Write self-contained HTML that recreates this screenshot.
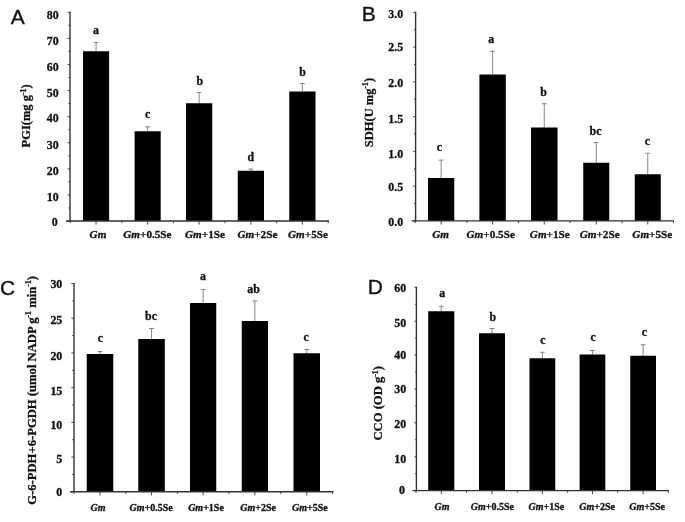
<!DOCTYPE html>
<html lang="en"><head><meta charset="utf-8"><title>Figure</title>
<style>
html,body{margin:0;padding:0;background:#fff;}
body{width:685px;height:522px;overflow:hidden;}
svg{display:block;filter:blur(0.55px);}
svg text{stroke:#111;stroke-width:0.3px;paint-order:stroke;}
svg text.pl{stroke-width:0.35px;}
</style></head><body>
<svg width="685" height="522" viewBox="0 0 685 522">
<rect width="685" height="522" fill="#fff"/>
<g class="panel">
<text x="10.75" y="23.9" font-family='"Liberation Sans", "DejaVu Sans", sans-serif' font-size="21" class="pl" fill="#111">A</text>
<path d="M96.05 51.25V42.50M93.65 42.50H98.45" stroke="#707070" stroke-width="0.85" fill="none"/>
<rect x="83.00" y="51.25" width="26.10" height="169.75" fill="#000"/>
<text x="96.05" y="34.00" text-anchor="middle" font-family='"Liberation Serif", "DejaVu Serif", serif' font-weight="bold" font-size="11.9" fill="#111">a</text>
<path d="M147.65 131.25V126.80M145.25 126.80H150.05" stroke="#707070" stroke-width="0.85" fill="none"/>
<rect x="134.60" y="131.25" width="26.10" height="89.75" fill="#000"/>
<text x="147.65" y="118.30" text-anchor="middle" font-family='"Liberation Serif", "DejaVu Serif", serif' font-weight="bold" font-size="11.9" fill="#111">c</text>
<path d="M199.12 103.25V92.50M196.72 92.50H201.53" stroke="#707070" stroke-width="0.85" fill="none"/>
<rect x="186.00" y="103.25" width="26.25" height="117.75" fill="#000"/>
<text x="199.72" y="84.60" text-anchor="middle" font-family='"Liberation Serif", "DejaVu Serif", serif' font-weight="bold" font-size="11.9" fill="#111">b</text>
<path d="M250.88 170.75V169.00M248.47 169.00H253.28" stroke="#707070" stroke-width="0.85" fill="none"/>
<rect x="237.75" y="170.75" width="26.25" height="50.25" fill="#000"/>
<text x="250.88" y="160.50" text-anchor="middle" font-family='"Liberation Serif", "DejaVu Serif", serif' font-weight="bold" font-size="11.9" fill="#111">d</text>
<path d="M302.38 91.50V83.50M299.98 83.50H304.77" stroke="#707070" stroke-width="0.85" fill="none"/>
<rect x="289.25" y="91.50" width="26.25" height="129.50" fill="#000"/>
<text x="302.68" y="75.90" text-anchor="middle" font-family='"Liberation Serif", "DejaVu Serif", serif' font-weight="bold" font-size="11.9" fill="#111">b</text>
<path d="M70 11.8V221M66 221H329" stroke="#333" stroke-width="1.4" fill="none"/>
<path d="M67.6 221.00H70M67.6 194.91H70M67.6 168.82H70M67.6 142.74H70M67.6 116.65H70M67.6 90.56H70M67.6 64.48H70M67.6 38.39H70M67.6 12.30H70M68.4 207.96H70M68.4 181.87H70M68.4 155.78H70M68.4 129.69H70M68.4 103.61H70M68.4 77.52H70M68.4 51.43H70M68.4 25.34H70M96.05 221V224.6M121.84 221V223.2M147.65 221V224.6M173.44 221V223.2M199.12 221V224.6M224.92 221V223.2M250.88 221V224.6M276.67 221V223.2M302.38 221V224.6M328.17 221V223.2M70.26 221V223.2" stroke="#333" stroke-width="0.9" fill="none"/>
<text x="57.70" y="225.80" text-anchor="end" font-family='"Liberation Serif", "DejaVu Serif", serif' font-weight="bold" font-size="11.9" fill="#111">0</text>
<text x="58.70" y="200.80" text-anchor="end" font-family='"Liberation Serif", "DejaVu Serif", serif' font-weight="bold" font-size="11.9" fill="#111">10</text>
<text x="58.70" y="174.80" text-anchor="end" font-family='"Liberation Serif", "DejaVu Serif", serif' font-weight="bold" font-size="11.9" fill="#111">20</text>
<text x="58.70" y="148.60" text-anchor="end" font-family='"Liberation Serif", "DejaVu Serif", serif' font-weight="bold" font-size="11.9" fill="#111">30</text>
<text x="58.70" y="122.30" text-anchor="end" font-family='"Liberation Serif", "DejaVu Serif", serif' font-weight="bold" font-size="11.9" fill="#111">40</text>
<text x="58.70" y="96.60" text-anchor="end" font-family='"Liberation Serif", "DejaVu Serif", serif' font-weight="bold" font-size="11.9" fill="#111">50</text>
<text x="58.70" y="70.90" text-anchor="end" font-family='"Liberation Serif", "DejaVu Serif", serif' font-weight="bold" font-size="11.9" fill="#111">60</text>
<text x="58.70" y="44.70" text-anchor="end" font-family='"Liberation Serif", "DejaVu Serif", serif' font-weight="bold" font-size="11.9" fill="#111">70</text>
<text x="58.70" y="18.80" text-anchor="end" font-family='"Liberation Serif", "DejaVu Serif", serif' font-weight="bold" font-size="11.9" fill="#111">80</text>
<text x="98.00" y="238.1" text-anchor="middle" font-family='"Liberation Serif", "DejaVu Serif", serif' font-weight="bold" font-size="11.2" fill="#111"><tspan font-style="italic">Gm</tspan></text>
<text x="147.40" y="238.1" text-anchor="middle" font-family='"Liberation Serif", "DejaVu Serif", serif' font-weight="bold" font-size="11.2" fill="#111"><tspan font-style="italic">Gm</tspan>+0.5Se</text>
<text x="205.00" y="238.1" text-anchor="middle" font-family='"Liberation Serif", "DejaVu Serif", serif' font-weight="bold" font-size="11.2" fill="#111"><tspan font-style="italic">Gm</tspan>+1Se</text>
<text x="257.40" y="238.1" text-anchor="middle" font-family='"Liberation Serif", "DejaVu Serif", serif' font-weight="bold" font-size="11.2" fill="#111"><tspan font-style="italic">Gm</tspan>+2Se</text>
<text x="308.00" y="238.1" text-anchor="middle" font-family='"Liberation Serif", "DejaVu Serif", serif' font-weight="bold" font-size="11.2" fill="#111"><tspan font-style="italic">Gm</tspan>+5Se</text>
<text transform="translate(30.2 115.9) rotate(-90)" text-anchor="middle" font-family='"Liberation Serif", "DejaVu Serif", serif' font-weight="bold" font-size="12.5" fill="#111"><tspan>PGI(mg g</tspan><tspan font-size="7.75" dy="-4.5">-1</tspan><tspan dy="4.5">)</tspan></text>
</g>
<g class="panel">
<text x="361.8" y="21.2" font-family='"Liberation Sans", "DejaVu Sans", sans-serif' font-size="21" class="pl" fill="#111">B</text>
<path d="M441.12 178.00V160.10M438.73 160.10H443.52" stroke="#707070" stroke-width="0.85" fill="none"/>
<rect x="428.00" y="178.00" width="26.25" height="42.90" fill="#000"/>
<text x="439.32" y="151.00" text-anchor="middle" font-family='"Liberation Serif", "DejaVu Serif", serif' font-weight="bold" font-size="11.9" fill="#111">c</text>
<path d="M492.60 74.50V51.25M490.20 51.25H495.00" stroke="#707070" stroke-width="0.85" fill="none"/>
<rect x="479.40" y="74.50" width="26.40" height="146.40" fill="#000"/>
<text x="491.30" y="42.75" text-anchor="middle" font-family='"Liberation Serif", "DejaVu Serif", serif' font-weight="bold" font-size="11.9" fill="#111">a</text>
<path d="M544.25 127.50V103.75M541.85 103.75H546.65" stroke="#707070" stroke-width="0.85" fill="none"/>
<rect x="531.00" y="127.50" width="26.50" height="93.40" fill="#000"/>
<text x="543.55" y="95.75" text-anchor="middle" font-family='"Liberation Serif", "DejaVu Serif", serif' font-weight="bold" font-size="11.9" fill="#111">b</text>
<path d="M596.25 162.75V142.50M593.85 142.50H598.65" stroke="#707070" stroke-width="0.85" fill="none"/>
<rect x="583.25" y="162.75" width="26.00" height="58.15" fill="#000"/>
<text x="595.55" y="134.70" text-anchor="middle" font-family='"Liberation Serif", "DejaVu Serif", serif' font-weight="bold" font-size="11.9" fill="#111">bc</text>
<path d="M647.75 174.25V153.25M645.35 153.25H650.15" stroke="#707070" stroke-width="0.85" fill="none"/>
<rect x="634.75" y="174.25" width="26.00" height="46.65" fill="#000"/>
<text x="647.45" y="145.45" text-anchor="middle" font-family='"Liberation Serif", "DejaVu Serif", serif' font-weight="bold" font-size="11.9" fill="#111">c</text>
<path d="M415.6 11.8V220.9M411.6 220.9H674" stroke="#333" stroke-width="1.4" fill="none"/>
<path d="M413.20000000000005 220.90H415.6M413.20000000000005 186.13H415.6M413.20000000000005 151.37H415.6M413.20000000000005 116.60H415.6M413.20000000000005 81.83H415.6M413.20000000000005 47.07H415.6M413.20000000000005 12.30H415.6M414.0 203.52H415.6M414.0 168.75H415.6M414.0 133.98H415.6M414.0 99.22H415.6M414.0 64.45H415.6M414.0 29.68H415.6M441.12 220.9V224.5M466.95 220.9V223.1M492.60 220.9V224.5M518.43 220.9V223.1M544.25 220.9V224.5M570.08 220.9V223.1M596.25 220.9V224.5M622.08 220.9V223.1M647.75 220.9V224.5M673.58 220.9V223.1M415.30 220.9V223.1" stroke="#333" stroke-width="0.9" fill="none"/>
<text x="403.20" y="225.70" text-anchor="end" font-family='"Liberation Serif", "DejaVu Serif", serif' font-weight="bold" font-size="11.9" fill="#111">0.0</text>
<text x="403.20" y="191.40" text-anchor="end" font-family='"Liberation Serif", "DejaVu Serif", serif' font-weight="bold" font-size="11.9" fill="#111">0.5</text>
<text x="403.20" y="158.10" text-anchor="end" font-family='"Liberation Serif", "DejaVu Serif", serif' font-weight="bold" font-size="11.9" fill="#111">1.0</text>
<text x="403.20" y="122.80" text-anchor="end" font-family='"Liberation Serif", "DejaVu Serif", serif' font-weight="bold" font-size="11.9" fill="#111">1.5</text>
<text x="403.20" y="87.10" text-anchor="end" font-family='"Liberation Serif", "DejaVu Serif", serif' font-weight="bold" font-size="11.9" fill="#111">2.0</text>
<text x="403.20" y="51.20" text-anchor="end" font-family='"Liberation Serif", "DejaVu Serif", serif' font-weight="bold" font-size="11.9" fill="#111">2.5</text>
<text x="403.20" y="17.60" text-anchor="end" font-family='"Liberation Serif", "DejaVu Serif", serif' font-weight="bold" font-size="11.9" fill="#111">3.0</text>
<text x="440.60" y="238.2" text-anchor="middle" font-family='"Liberation Serif", "DejaVu Serif", serif' font-weight="bold" font-size="11.2" fill="#111"><tspan font-style="italic">Gm</tspan></text>
<text x="490.70" y="238.2" text-anchor="middle" font-family='"Liberation Serif", "DejaVu Serif", serif' font-weight="bold" font-size="11.2" fill="#111"><tspan font-style="italic">Gm</tspan>+0.5Se</text>
<text x="549.80" y="238.2" text-anchor="middle" font-family='"Liberation Serif", "DejaVu Serif", serif' font-weight="bold" font-size="11.2" fill="#111"><tspan font-style="italic">Gm</tspan>+1Se</text>
<text x="599.70" y="238.2" text-anchor="middle" font-family='"Liberation Serif", "DejaVu Serif", serif' font-weight="bold" font-size="11.2" fill="#111"><tspan font-style="italic">Gm</tspan>+2Se</text>
<text x="652.30" y="238.2" text-anchor="middle" font-family='"Liberation Serif", "DejaVu Serif", serif' font-weight="bold" font-size="11.2" fill="#111"><tspan font-style="italic">Gm</tspan>+5Se</text>
<text transform="translate(372.6 112.5) rotate(-90)" text-anchor="middle" font-family='"Liberation Serif", "DejaVu Serif", serif' font-weight="bold" font-size="12.5" fill="#111"><tspan>SDH(U mg</tspan><tspan font-size="7.75" dy="-4.5">-1</tspan><tspan dy="4.5">)</tspan></text>
</g>
<g class="panel">
<text x="0" y="294.8" font-family='"Liberation Sans", "DejaVu Sans", sans-serif' font-size="21" class="pl" fill="#111">C</text>
<path d="M100.00 354.00V351.50M97.60 351.50H102.40" stroke="#707070" stroke-width="0.85" fill="none"/>
<rect x="86.75" y="354.00" width="26.50" height="137.80" fill="#000"/>
<text x="100.30" y="341.80" text-anchor="middle" font-family='"Liberation Serif", "DejaVu Serif", serif' font-weight="bold" font-size="11.9" fill="#111">c</text>
<path d="M151.55 339.00V328.50M149.15 328.50H153.95" stroke="#707070" stroke-width="0.85" fill="none"/>
<rect x="138.30" y="339.00" width="26.50" height="152.80" fill="#000"/>
<text x="151.05" y="319.50" text-anchor="middle" font-family='"Liberation Serif", "DejaVu Serif", serif' font-weight="bold" font-size="11.9" fill="#111">bc</text>
<path d="M203.12 303.00V289.40M200.72 289.40H205.53" stroke="#707070" stroke-width="0.85" fill="none"/>
<rect x="190.00" y="303.00" width="26.25" height="188.80" fill="#000"/>
<text x="203.03" y="280.00" text-anchor="middle" font-family='"Liberation Serif", "DejaVu Serif", serif' font-weight="bold" font-size="11.9" fill="#111">a</text>
<path d="M254.88 321.00V301.00M252.47 301.00H257.27" stroke="#707070" stroke-width="0.85" fill="none"/>
<rect x="241.75" y="321.00" width="26.25" height="170.80" fill="#000"/>
<text x="253.47" y="292.50" text-anchor="middle" font-family='"Liberation Serif", "DejaVu Serif", serif' font-weight="bold" font-size="11.9" fill="#111">ab</text>
<path d="M306.75 353.25V349.50M304.35 349.50H309.15" stroke="#707070" stroke-width="0.85" fill="none"/>
<rect x="293.50" y="353.25" width="26.50" height="138.55" fill="#000"/>
<text x="306.05" y="340.50" text-anchor="middle" font-family='"Liberation Serif", "DejaVu Serif", serif' font-weight="bold" font-size="11.9" fill="#111">c</text>
<path d="M74 283.0V491.8M70 491.8H333.5" stroke="#333" stroke-width="1.4" fill="none"/>
<path d="M71.4 491.80H74M71.4 457.08H74M71.4 422.37H74M71.4 387.65H74M71.4 352.93H74M71.4 318.22H74M71.4 283.50H74M72.2 474.44H74M72.2 439.73H74M72.2 405.01H74M72.2 370.29H74M72.2 335.58H74M72.2 300.86H74M100.00 491.8V495.40000000000003M125.84 491.8V494.0M151.55 491.8V495.40000000000003M177.39 491.8V494.0M203.12 491.8V495.40000000000003M228.97 491.8V494.0M254.88 491.8V495.40000000000003M280.72 491.8V494.0M306.75 491.8V495.40000000000003M332.59 491.8V494.0M74.16 491.8V494.0" stroke="#333" stroke-width="0.9" fill="none"/>
<text x="62.30" y="496.10" text-anchor="end" font-family='"Liberation Serif", "DejaVu Serif", serif' font-weight="bold" font-size="11.9" fill="#111">0</text>
<text x="62.30" y="462.80" text-anchor="end" font-family='"Liberation Serif", "DejaVu Serif", serif' font-weight="bold" font-size="11.9" fill="#111">5</text>
<text x="62.30" y="428.90" text-anchor="end" font-family='"Liberation Serif", "DejaVu Serif", serif' font-weight="bold" font-size="11.9" fill="#111">10</text>
<text x="62.30" y="394.50" text-anchor="end" font-family='"Liberation Serif", "DejaVu Serif", serif' font-weight="bold" font-size="11.9" fill="#111">15</text>
<text x="62.30" y="360.00" text-anchor="end" font-family='"Liberation Serif", "DejaVu Serif", serif' font-weight="bold" font-size="11.9" fill="#111">20</text>
<text x="62.30" y="323.60" text-anchor="end" font-family='"Liberation Serif", "DejaVu Serif", serif' font-weight="bold" font-size="11.9" fill="#111">25</text>
<text x="62.30" y="287.80" text-anchor="end" font-family='"Liberation Serif", "DejaVu Serif", serif' font-weight="bold" font-size="11.9" fill="#111">30</text>
<text x="98.00" y="511.3" text-anchor="middle" font-family='"Liberation Serif", "DejaVu Serif", serif' font-weight="bold" font-size="10" fill="#111"><tspan font-style="italic">Gm</tspan></text>
<text x="151.20" y="511.3" text-anchor="middle" font-family='"Liberation Serif", "DejaVu Serif", serif' font-weight="bold" font-size="10" fill="#111"><tspan font-style="italic">Gm</tspan>+0.5Se</text>
<text x="206.00" y="511.3" text-anchor="middle" font-family='"Liberation Serif", "DejaVu Serif", serif' font-weight="bold" font-size="10" fill="#111"><tspan font-style="italic">Gm</tspan>+1Se</text>
<text x="258.10" y="511.3" text-anchor="middle" font-family='"Liberation Serif", "DejaVu Serif", serif' font-weight="bold" font-size="10" fill="#111"><tspan font-style="italic">Gm</tspan>+2Se</text>
<text x="309.90" y="511.3" text-anchor="middle" font-family='"Liberation Serif", "DejaVu Serif", serif' font-weight="bold" font-size="10" fill="#111"><tspan font-style="italic">Gm</tspan>+5Se</text>
<text transform="translate(35.7 390.4) rotate(-90)" text-anchor="middle" font-family='"Liberation Serif", "DejaVu Serif", serif' font-weight="bold" font-size="12.65" fill="#111"><tspan>G-6-PDH+6-PGDH (umol NADP g</tspan><tspan font-size="7.84" dy="-4.5">-1</tspan><tspan dy="4.5"> min</tspan><tspan font-size="7.84" dy="-4.5">-1</tspan><tspan dy="4.5">)</tspan></text>
</g>
<g class="panel">
<text x="367.7" y="294.4" font-family='"Liberation Sans", "DejaVu Sans", sans-serif' font-size="21" class="pl" fill="#111">D</text>
<path d="M441.25 311.25V306.25M438.85 306.25H443.65" stroke="#707070" stroke-width="0.85" fill="none"/>
<rect x="428.20" y="311.25" width="26.10" height="179.35" fill="#000"/>
<text x="442.25" y="297.15" text-anchor="middle" font-family='"Liberation Serif", "DejaVu Serif", serif' font-weight="bold" font-size="11.9" fill="#111">a</text>
<path d="M492.00 333.25V328.50M489.60 328.50H494.40" stroke="#707070" stroke-width="0.85" fill="none"/>
<rect x="479.00" y="333.25" width="26.00" height="157.35" fill="#000"/>
<text x="492.90" y="320.60" text-anchor="middle" font-family='"Liberation Serif", "DejaVu Serif", serif' font-weight="bold" font-size="11.9" fill="#111">b</text>
<path d="M542.38 358.25V352.25M539.98 352.25H544.77" stroke="#707070" stroke-width="0.85" fill="none"/>
<rect x="529.50" y="358.25" width="25.75" height="132.35" fill="#000"/>
<text x="542.88" y="344.35" text-anchor="middle" font-family='"Liberation Serif", "DejaVu Serif", serif' font-weight="bold" font-size="11.9" fill="#111">c</text>
<path d="M592.45 354.50V350.50M590.05 350.50H594.85" stroke="#707070" stroke-width="0.85" fill="none"/>
<rect x="579.60" y="354.50" width="25.70" height="136.10" fill="#000"/>
<text x="593.25" y="341.20" text-anchor="middle" font-family='"Liberation Serif", "DejaVu Serif", serif' font-weight="bold" font-size="11.9" fill="#111">c</text>
<path d="M643.12 355.75V344.75M640.73 344.75H645.52" stroke="#707070" stroke-width="0.85" fill="none"/>
<rect x="630.25" y="355.75" width="25.75" height="134.85" fill="#000"/>
<text x="644.42" y="335.75" text-anchor="middle" font-family='"Liberation Serif", "DejaVu Serif", serif' font-weight="bold" font-size="11.9" fill="#111">c</text>
<path d="M416.4 286.8V490.6M412.4 490.6H669" stroke="#333" stroke-width="1.4" fill="none"/>
<path d="M414.4 490.60H416.4M414.4 456.72H416.4M414.4 422.83H416.4M414.4 388.95H416.4M414.4 355.07H416.4M414.4 321.18H416.4M414.4 287.30H416.4M415.09999999999997 473.66H416.4M415.09999999999997 439.78H416.4M415.09999999999997 405.89H416.4M415.09999999999997 372.01H416.4M415.09999999999997 338.12H416.4M415.09999999999997 304.24H416.4M441.25 490.6V494.20000000000005M466.48 490.6V492.8M492.00 490.6V494.20000000000005M517.23 490.6V492.8M542.38 490.6V494.20000000000005M567.61 490.6V492.8M592.45 490.6V494.20000000000005M617.68 490.6V492.8M643.12 490.6V494.20000000000005M668.36 490.6V492.8M416.02 490.6V492.8" stroke="#333" stroke-width="0.9" fill="none"/>
<text x="405.00" y="493.50" text-anchor="end" font-family='"Liberation Serif", "DejaVu Serif", serif' font-weight="bold" font-size="11.9" fill="#111">0</text>
<text x="406.20" y="463.30" text-anchor="end" font-family='"Liberation Serif", "DejaVu Serif", serif' font-weight="bold" font-size="11.9" fill="#111">10</text>
<text x="406.20" y="427.80" text-anchor="end" font-family='"Liberation Serif", "DejaVu Serif", serif' font-weight="bold" font-size="11.9" fill="#111">20</text>
<text x="406.20" y="392.90" text-anchor="end" font-family='"Liberation Serif", "DejaVu Serif", serif' font-weight="bold" font-size="11.9" fill="#111">30</text>
<text x="406.20" y="359.00" text-anchor="end" font-family='"Liberation Serif", "DejaVu Serif", serif' font-weight="bold" font-size="11.9" fill="#111">40</text>
<text x="406.20" y="326.60" text-anchor="end" font-family='"Liberation Serif", "DejaVu Serif", serif' font-weight="bold" font-size="11.9" fill="#111">50</text>
<text x="406.20" y="291.70" text-anchor="end" font-family='"Liberation Serif", "DejaVu Serif", serif' font-weight="bold" font-size="11.9" fill="#111">60</text>
<text x="442.10" y="509.6" text-anchor="middle" font-family='"Liberation Serif", "DejaVu Serif", serif' font-weight="bold" font-size="10" fill="#111"><tspan font-style="italic">Gm</tspan></text>
<text x="492.40" y="509.6" text-anchor="middle" font-family='"Liberation Serif", "DejaVu Serif", serif' font-weight="bold" font-size="10" fill="#111"><tspan font-style="italic">Gm</tspan>+0.5Se</text>
<text x="546.30" y="509.6" text-anchor="middle" font-family='"Liberation Serif", "DejaVu Serif", serif' font-weight="bold" font-size="10" fill="#111"><tspan font-style="italic">Gm</tspan>+1Se</text>
<text x="597.20" y="509.6" text-anchor="middle" font-family='"Liberation Serif", "DejaVu Serif", serif' font-weight="bold" font-size="10" fill="#111"><tspan font-style="italic">Gm</tspan>+2Se</text>
<text x="647.20" y="509.6" text-anchor="middle" font-family='"Liberation Serif", "DejaVu Serif", serif' font-weight="bold" font-size="10" fill="#111"><tspan font-style="italic">Gm</tspan>+5Se</text>
<text transform="translate(382.1 403.3) rotate(-90)" text-anchor="middle" font-family='"Liberation Serif", "DejaVu Serif", serif' font-weight="bold" font-size="12.6" fill="#111"><tspan>CCO (OD g</tspan><tspan font-size="7.81" dy="-4.5">-1</tspan><tspan dy="4.5">)</tspan></text>
</g>
</svg>
</body></html>
